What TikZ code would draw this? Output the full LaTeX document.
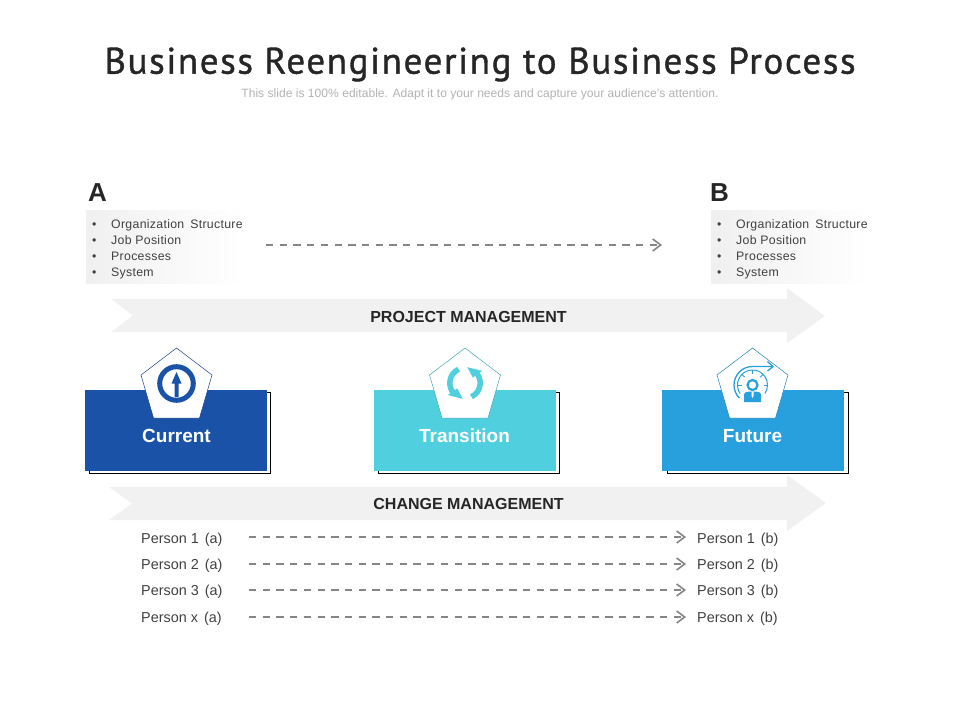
\documentclass[tikz,border=0pt]{standalone}
\usepackage{fontspec}
\setmainfont{Liberation Sans}
\newfontfamily\titlefont[LetterSpace=4.4,FakeBold=1.1]{PT Sans}
\newfontfamily\listfont[LetterSpace=2.5]{Liberation Sans}
\usetikzlibrary{arrows.meta}
\definecolor{cCur}{HTML}{1A52A8}
\definecolor{cTra}{HTML}{50D0DE}
\definecolor{cFut}{HTML}{27A0DD}
\definecolor{band}{HTML}{F1F1F1}
\definecolor{txt}{HTML}{404040}
\definecolor{dash}{HTML}{858585}
\tikzset{
 x=1pt,y=-1pt,
 tlabel/.style={inner sep=0pt,anchor=west,text=txt,font=\fontsize{14.4}{16}\selectfont},
 bandlabel/.style={inner sep=0pt,text=black!85,font=\fontsize{16}{18}\selectfont\bfseries},
 headlabel/.style={inner sep=0pt,anchor=west,text=black!85,font=\fontsize{26}{28}\selectfont\bfseries},
 boxlabel/.style={inner sep=0pt,text=white,font=\fontsize{19}{20}\selectfont\bfseries},
 listbox/.style={inner sep=0pt,anchor=north west,minimum width=155pt,minimum height=73pt,left color=black!6,right color=white,shading angle=90,draw=none,align=left,text=txt,font=\fontsize{12.3}{16}\selectfont\listfont},
 dashline/.style={draw=dash,line width=1.4pt,dash pattern=on 7.3pt off 6.4pt,-{Straight Barb[length=8pt,width=12pt,line width=1.6pt]}},
 card/.style={inner sep=0pt,anchor=north west,minimum width=181.5pt,minimum height=81pt},
 shadowcard/.style={inner sep=0pt,anchor=north west,minimum width=181pt,minimum height=81pt,draw=black,line width=.9pt,fill=white},
}
\newcommand{\bl}[1]{\makebox[6pt][l]{}\makebox[19pt][l]{•}#1}
\newcommand{\firstline}{\rule{0pt}{15pt}}
\begin{document}
\begin{tikzpicture}
\useasboundingbox (0,0) rectangle (960,720);
% title
\node[inner sep=0pt,text=black!85,font=\fontsize{37}{40}\selectfont\titlefont] (title) at (480,64.5) {Business Reengineering to Business Process};
\node[inner sep=0pt,text=black!30,font=\fontsize{12.1}{14}\selectfont] (sub) at (480,94.5) {This slide is 100\% editable. Adapt it to your needs and capture your audience's attention.};
% A / B
\node[headlabel] (A) at (88,192.5) {A};
\node[headlabel] (B) at (710,192.5) {B};
\node[listbox] (boxA) at (86,210) {\firstline\bl{Organization\hspace{6pt}Structure}\\\bl{Job Position}\\\bl{Processes}\\\bl{System}};
\node[listbox] (boxB) at (711,210) {\firstline\bl{Organization\hspace{6pt}Structure}\\\bl{Job Position}\\\bl{Processes}\\\bl{System}};
\coordinate (abS) at (266,245);
\coordinate (abE) at (662,245);
\draw[dashline] (abS) -- (abE);
% bands
\fill[band] (111,299) -- (787,299) -- (787,288) -- (825,316) -- (787,343) -- (787,332) -- (111,332) -- (133,315.5) -- cycle;
\node[bandlabel] (pm) at (468.5,316.5) {PROJECT MANAGEMENT};
\fill[band] (109,487) -- (787,487) -- (787,475) -- (826,503) -- (787,531) -- (787,520) -- (109,520) -- (132,503.5) -- cycle;
\node[bandlabel] (cm) at (468.5,503.5) {CHANGE MANAGEMENT};
% cards
\foreach \nm/\bx/\sx/\col/\cx in {cur/85/89/cCur/176.5,tra/374/378/cTra/465,fut/662/667/cFut/752.5}{
 \node[shadowcard] (\nm s) at (\sx,392) {};
 \node[card,fill=\col] (\nm) at (\bx,390) {};
 \filldraw[fill=white,draw=\col!80!black,line width=.5pt] (\cx,348) -- (\cx+35.5,375) -- (\cx+23,418) -- (\cx-23,418) -- (\cx-35.5,375) -- cycle;
}
\node[boxlabel] (curl) at (176.5,436) {Current};
\node[boxlabel] (tral) at (464.5,436) {Transition};
\node[boxlabel] (futl) at (752.5,436) {Future};
% current icon
\begin{scope}[shift={(176.5,383.5)},y=1pt]
 \draw[cCur,line width=5pt] (0,0) circle[radius=16.8];
 \fill[cCur] (-2,-13.5) -- (2,-13.5) -- (2,0) -- (5,0) -- (0,11.5) -- (-5,0) -- (-2,0) -- cycle;
\end{scope}
% transition icon
\begin{scope}[shift={(465,383)},y=1pt]
 \foreach \r in {0,180}{
  \begin{scope}[rotate=\r]
   \draw[cTra,line width=5.5pt] (115:15.2) arc[start angle=115,end angle=218,radius=15.2];
   \fill[cTra] (215:9.5) -- (215:21) -- (262:16) -- cycle;
  \end{scope}
 }
\end{scope}
% future icon
\begin{scope}[shift={(752.5,385)},y=1pt]
 \draw[cFut,line width=1.3pt] (225:18.5) arc[start angle=225,end angle=90,radius=18.5] -- (20,18.5);
 \draw[cFut,line width=1.3pt] (15,23.5) -- (20.5,18.5) -- (15,14);
 \draw[cFut,line width=1pt] (215:15) arc[start angle=215,end angle=-35,radius=15];
 \foreach \a in {0,45,90,135,180}{\draw[cFut,line width=1pt] (\a:15) -- (\a:11);}
 \draw[cFut,line width=2.2pt] (0,0) circle[radius=5];
 \fill[cFut] (-8.5,-17) -- (8.5,-17) -- (8.5,-10) .. controls (8.5,-7) and (5,-6.5) .. (3,-6.5) -- (-3,-6.5) .. controls (-5,-6.5) and (-8.5,-7) .. (-8.5,-10) -- cycle;
 \fill[white] (-1,-6.5) -- (1,-6.5) -- (1,-11) -- (0,-13) -- (-1,-11) -- cycle;
\end{scope}
% persons
\foreach \i/\t/\ty/\ly in {1/1/539.5/537,2/2/565.5/564,3/3/591.5/590,4/x/618.5/617}{
 \node[tlabel] (pa\i) at (141,\ty) {Person \t\hspace{6pt}(a)};
 \node[tlabel] (pb\i) at (697,\ty) {Person \t\hspace{6pt}(b)};
 \coordinate (ps\i) at (249,\ly);
 \coordinate (pe\i) at (686,\ly);
 \draw[dashline] (ps\i) -- (pe\i);
}
\end{tikzpicture}
\end{document}
